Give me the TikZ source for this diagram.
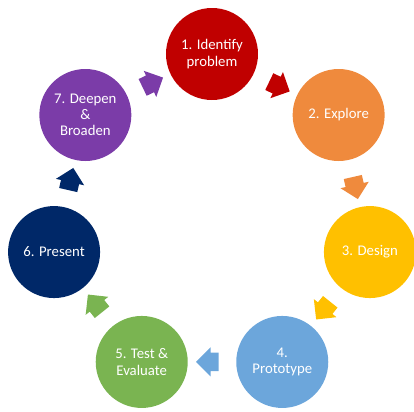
\documentclass[tikz,border=0pt]{standalone}
\usepackage{fontspec}
\setmainfont{Carlito}
\usepackage{tikz}
\usetikzlibrary{positioning, shapes.arrows, calc}
\definecolor{stepred}{RGB}{192,0,0}
\definecolor{steporange}{RGB}{239,138,61}
\definecolor{stepyellow}{RGB}{255,192,0}
\definecolor{stepblue}{RGB}{108,166,219}
\definecolor{stepgreen}{RGB}{122,180,81}
\definecolor{stepnavy}{RGB}{0,40,104}
\definecolor{steppurple}{RGB}{123,60,168}

\begin{document}
\begin{tikzpicture}[
    stage/.style={circle, minimum size=2.3cm, inner sep=0pt, text=white,
                  align=center, font=\fontsize{10.5}{11.6}\selectfont},
    flow/.style={single arrow, draw=none, inner xsep=0.16cm, inner ysep=0.225cm,
                 single arrow head extend=0.13cm}
  ]
        \useasboundingbox (-5.3,-4.9) rectangle (5.05,5.4);

        % Etapas del ciclo
        \node[stage, fill=stepred] (c1) at (90:4.05) {1. Identify\\problem};
        \node[stage, fill=steporange] (c2) at (38.57:4.05) {2. Explore};
        \node[stage, fill=stepyellow] (c3) at (-12.86:4.05) {3. Design};
        \node[stage, fill=stepblue] (c4) at (-64.29:4.05) {4.\\Prototype};
        \node[stage, fill=stepgreen] (c5) at (-115.71:4.05) {5. Test \&\\Evaluate};
        \node[stage, fill=stepnavy] (c6) at (-167.14:4.05) {6. Present};
        \node[stage, fill=steppurple] (c7) at (141.43:4.05) {7. Deepen\\\&\\Broaden};

        % Flechas entre etapas
        \node[flow, fill=stepred, rotate=-25.71] (a12) at ($(c1)!0.5!(c2)$) {};
        \node[flow, fill=steporange, rotate=-77.14] (a23) at ($(c2)!0.5!(c3)$) {};
        \node[flow, fill=stepyellow, rotate=-128.57] (a34) at ($(c3)!0.5!(c4)$) {};
        \node[flow, fill=stepblue, rotate=180] (a45) at ($(c4)!0.5!(c5)$) {};
        \node[flow, fill=stepgreen, rotate=128.57] (a56) at ($(c5)!0.5!(c6)$) {};
        \node[flow, fill=stepnavy, rotate=77.14] (a67) at ($(c6)!0.5!(c7)$) {};
        \node[flow, fill=steppurple, rotate=25.71] (a71) at ($(c7)!0.5!(c1)$) {};
    \end{tikzpicture}
\end{document}
